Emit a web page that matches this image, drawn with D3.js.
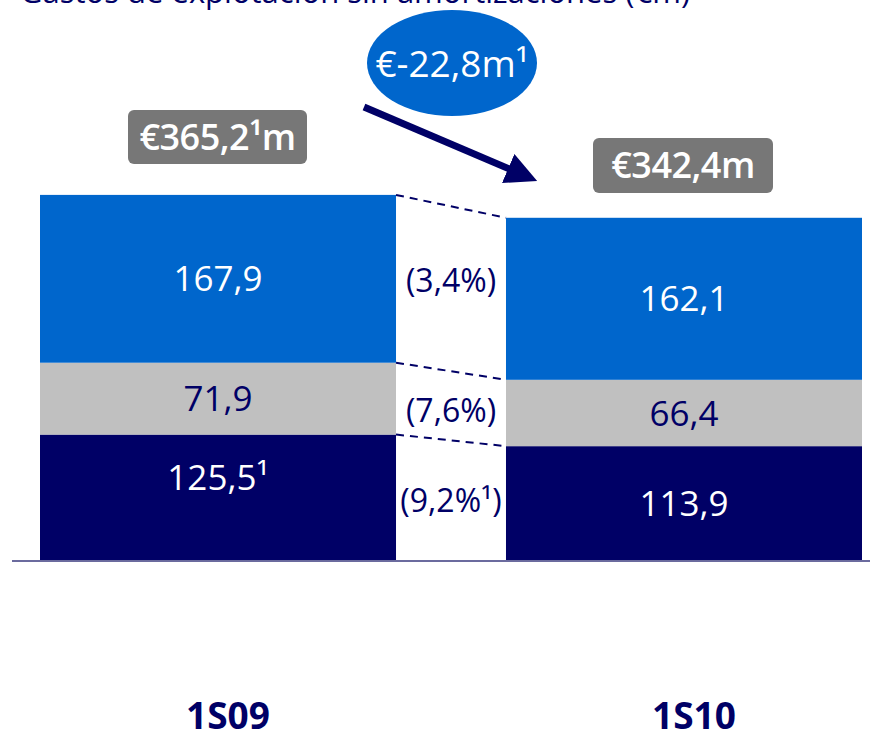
<!DOCTYPE html>
<html>
<head>
<meta charset="utf-8">
<script src="https://cdn.jsdelivr.net/npm/d3@7"></script>
<style>
  body { margin: 0; background: #fff; }
  svg text { font-family: "Open Sans", "Noto Sans", sans-serif; }
</style>
</head>
<body>
<div id="chart"></div>
<script>
// data
const categories = ["1S09", "1S10"];
const segments = ["dark", "gray", "blue"];
const darkValues = [125.5, 113.9];
const grayValues = [71.9, 66.4];
const blueValues = [167.9, 162.1];
const darkLabels = ["125,5¹", "113,9"];
const grayLabels = ["71,9", "66,4"];
const blueLabels = ["167,9", "162,1"];
const totalLabels = ["€365,2¹m", "€342,4m"];
const changeLabels = ["(9,2%¹)", "(7,6%)", "(3,4%)"];
const deltaLabel = "€-22,8m¹";
const title = "Gastos de explotación sin amortizaciones (€m)";

const colors = {dark: "#000066", gray: "#C0C0C0", blue: "#0066CC"};
const navy = "#000066";

const W = 870, H = 731;
const svg = d3.select("#chart").append("svg")
    .attr("width", W).attr("height", H);

const x = d3.scaleBand()
    .domain(categories)
    .range([40, 862])
    .paddingInner(0.236)
    .paddingOuter(0);

const y = d3.scaleLinear()
    .domain([0, 365.2])
    .range([560, 195]);

// stack
const rows = categories.map((c, i) => ({cat: c, dark: darkValues[i], gray: grayValues[i], blue: blueValues[i]}));
const stack = d3.stack().keys(segments)(rows);
const labelsBy = {dark: darkLabels, gray: grayLabels, blue: blueLabels};

// title (cut at top as in the slide)
svg.append("text")
    .attr("x", 20).attr("y", 3)
    .attr("fill", navy)
    .attr("font-size", 31)
    .text(title);

// bars
stack.forEach(layer => {
    svg.append("g").selectAll("rect")
        .data(layer)
        .join("rect")
        .attr("x", d => x(d.data.cat))
        .attr("y", d => y(d[1]))
        .attr("width", x.bandwidth())
        .attr("height", d => y(d[0]) - y(d[1]))
        .attr("fill", colors[layer.key]);
});

// baseline
svg.append("line")
    .attr("x1", 12).attr("x2", W)
    .attr("y1", y(0) + 1).attr("y2", y(0) + 1)
    .attr("stroke", "#6B6B9E")
    .attr("stroke-width", 2);

// segment labels
stack.forEach(layer => {
    svg.append("g").selectAll("text")
        .data(layer)
        .join("text")
        .attr("x", d => x(d.data.cat) + x.bandwidth() / 2)
        .attr("y", (d, i) => {
            let mid = (y(d[0]) + y(d[1])) / 2;
            if (layer.key === "dark" && i === 0) mid -= 20;
            return mid;
        })
        .attr("dy", "0.36em")
        .attr("text-anchor", "middle")
        .attr("font-size", 35)
        .attr("fill", layer.key === "gray" ? navy : "#fff")
        .text((d, i) => labelsBy[layer.key][i]);
});

// dashed connectors between bars
const xl = x(categories[0]) + x.bandwidth();
const xr = x(categories[1]);
stack.forEach(layer => {
    svg.append("line")
        .attr("x1", xl).attr("y1", y(layer[0][1]))
        .attr("x2", xr).attr("y2", y(layer[1][1]))
        .attr("stroke", navy)
        .attr("stroke-width", 2)
        .attr("stroke-dasharray", "8,6");
});

// change labels between bars
const changeY = [500, 410, 280];
changeLabels.forEach((t, i) => {
    svg.append("text")
        .attr("x", (xl + xr) / 2)
        .attr("y", changeY[i])
        .attr("dy", "0.36em")
        .attr("text-anchor", "middle")
        .attr("font-size", 32)
        .attr("fill", navy)
        .text(t);
});

// total boxes
const boxes = [
    {x: 128, y: 110, w: 179, h: 54},
    {x: 593, y: 138, w: 180, h: 55}
];
boxes.forEach((b, i) => {
    svg.append("rect")
        .attr("x", b.x).attr("y", b.y)
        .attr("width", b.w).attr("height", b.h)
        .attr("rx", 6)
        .attr("fill", "#777777");
    svg.append("text")
        .attr("x", b.x + b.w / 2)
        .attr("y", b.y + b.h / 2)
        .attr("dy", "0.36em")
        .attr("text-anchor", "middle")
        .attr("font-size", 36)
        .attr("font-weight", 600)
        .attr("letter-spacing", -0.5)
        .attr("fill", "#fff")
        .text(totalLabels[i]);
});

// delta bubble
svg.append("ellipse")
    .attr("cx", 452).attr("cy", 63)
    .attr("rx", 85).attr("ry", 53)
    .attr("fill", "#0066CC");
svg.append("text")
    .attr("x", 452).attr("y", 64)
    .attr("dy", "0.36em")
    .attr("text-anchor", "middle")
    .attr("font-size", 37)
    .attr("fill", "#fff")
    .text(deltaLabel);

// arrow
svg.append("defs").append("marker")
    .attr("id", "arr")
    .attr("viewBox", "0 0 10 10")
    .attr("refX", 2).attr("refY", 5)
    .attr("markerWidth", 4.5).attr("markerHeight", 4.5)
    .attr("orient", "auto")
    .append("path")
    .attr("d", "M0,0 L10,5 L0,10 z")
    .attr("fill", navy);
svg.append("line")
    .attr("x1", 364).attr("y1", 107)
    .attr("x2", 514).attr("y2", 171)
    .attr("stroke", navy)
    .attr("stroke-width", 7)
    .attr("marker-end", "url(#arr)");

// category labels
categories.forEach(c => {
    svg.append("text")
        .attr("x", x(c) + x.bandwidth() / 2 + 10)
        .attr("y", 716)
        .attr("dy", "0.36em")
        .attr("text-anchor", "middle")
        .attr("font-size", 37)
        .attr("font-weight", 700)
        .attr("fill", navy)
        .text(c);
});
</script>
</body>
</html>
